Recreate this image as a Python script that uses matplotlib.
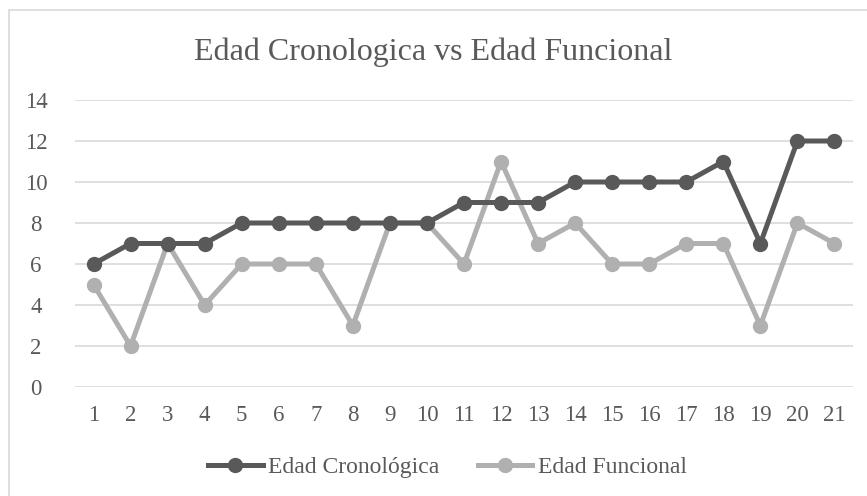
import matplotlib
matplotlib.use("Agg")
import matplotlib.pyplot as plt
from matplotlib.patches import Rectangle

categorias = list(range(1, 22))
edad_cronologica = [6, 7, 7, 7, 8, 8, 8, 8, 8, 8, 9, 9, 9, 10, 10, 10, 10, 11, 7, 12, 12]
edad_funcional = [5, 2, 7, 4, 6, 6, 6, 3, 8, 8, 6, 11, 7, 8, 6, 6, 7, 7, 3, 8, 7]
y_ticks = [0, 2, 4, 6, 8, 10, 12, 14]

plt.rcParams['font.family'] = ['Liberation Serif', 'DejaVu Serif']
txt = '#595959'
dark = '#595959'
light = '#B0B0B0'

fig = plt.figure(figsize=(8.67, 4.96), dpi=100)
fig.patches.append(Rectangle((9/867, -0.1), 1.1, 1.1 - 10/496, transform=fig.transFigure,
                             fill=False, edgecolor='#D9D9D9', linewidth=1.2))
ax = fig.add_axes([75/867, 1 - 387/496, (853-75)/867, (387-100)/496])

ax.plot(categorias, edad_cronologica, color=dark, lw=3.6, marker='o', ms=10,
        label='Edad Cronológica', zorder=3)
ax.plot(categorias, edad_funcional, color=light, lw=3.6, marker='o', ms=10,
        label='Edad Funcional', zorder=2)

ax.set_xlim(0.5, 21.5)
ax.set_ylim(0, 14)
ax.set_yticks(y_ticks)
ax.set_xticks(categorias)
ax.set_xticklabels([str(c) for c in categorias])
ax.grid(axis='y', color='#D9D9D9', lw=1.2)
ax.set_axisbelow(True)
for s in ax.spines.values():
    s.set_visible(False)
ax.tick_params(length=0, labelsize=16.5, labelcolor=txt)
ax.tick_params(axis='x', pad=13)
ax.tick_params(axis='y', pad=28)
for lab in ax.get_yticklabels():
    lab.set_horizontalalignment('center')

fig.text(0.5, 1 - 52/496, 'Edad Cronologica vs Edad Funcional', ha='center', va='center',
         fontsize=23, color=txt)
leg = fig.legend(loc='center', bbox_to_anchor=(0.5 + 14/867, 1 - 467/496), ncol=2, frameon=False,
                 fontsize=17, labelcolor=txt, handlelength=2.3, handletextpad=0.25,
                 columnspacing=1.6)
fig.savefig('out.png', dpi=100)
